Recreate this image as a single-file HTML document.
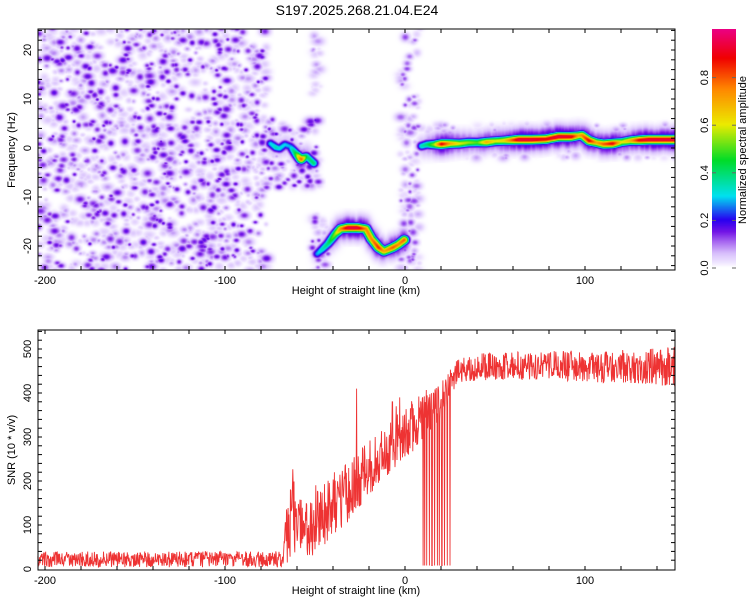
<!DOCTYPE html>
<html><head><meta charset="utf-8">
<style>
html,body{margin:0;padding:0;background:#fff;}
#wrap{position:relative;width:750px;height:600px;overflow:hidden;font-family:"Liberation Sans",sans-serif;}
canvas,svg{position:absolute;left:0;top:0;}
</style></head>
<body>
<div id="wrap">
<canvas id="heat" width="637" height="241" style="left:38px;top:29px"></canvas>
<canvas id="cbar" width="24" height="239" style="left:712px;top:29px"></canvas>
<svg id="ov" width="750" height="600"></svg>
</div>
<script>
// ---------- DATA ----------
const ridgeA_km  = [-75,-72,-70,-67,-64,-61,-58,-55,-51];
const ridgeA_hz  = [1.0,0.2,0.0,0.8,0.4,-1.0,-2.2,-1.6,-3.0];
const ridgeA_amp = [0.30,0.35,0.32,0.30,0.28,0.45,0.80,0.40,0.40];
const ridgeB_km  = [-49,-46,-43,-39,-36,-32,-27,-22,-19,-15,-12,-7,-4,-0.5];
const ridgeB_hz  = [-21.5,-20.5,-19.4,-17.5,-16.4,-16.2,-16.2,-16.4,-18.4,-20.2,-21.0,-20.2,-19.6,-18.6];
const ridgeB_amp = [0.28,0.35,0.40,0.55,0.75,0.95,0.95,0.75,0.75,0.85,0.70,0.80,0.75,0.80];
const ridgeC_km  = [9,12,16,20,25,30,35,40,45,50,55,63,70,78,85,92,96,98,102,106,110,115,120,125,130,135,140,145,150];
const ridgeC_hz  = [0.5,0.8,0.8,0.9,1.0,1.0,1.2,1.2,1.3,1.5,1.6,1.8,1.8,1.9,2.4,2.4,2.6,2.7,1.6,1.2,0.9,1.0,1.3,1.6,1.7,1.8,1.8,1.8,1.8];
const ridgeC_amp = [0.35,0.40,0.55,0.90,0.70,0.60,0.55,0.50,0.70,0.60,0.65,0.95,0.95,0.90,0.95,0.92,0.70,0.75,0.90,0.70,0.80,0.90,0.60,0.70,0.90,0.95,0.95,0.95,0.95];
const speckleKm0 = [-204,-79,-52,-52,-3,8];
const speckleKm1 = [-77,-48,-47,-43,8,150];
const speckleHz0 = [-25,-8,10,-25,-25,-2];
const speckleHz1 = [25,6,25,-13,25,5];
const speckleN   = [1500,110,22,40,140,200];
const speckleAmp = [0.16,0.16,0.08,0.14,0.12,0.08];
const snrKm     = [-204,-180,-150,-120,-90,-68,-66,-63,-60,-55,-50,-45,-40,-35,-30,-25,-20,-15,-10,-5,0,5,10,15,20,24,27,30,40,50,60,70,80,90,100,110,120,130,140,150];
const snrMean   = [22,22,22,22,22,22,60,140,110,90,110,125,150,165,180,200,230,250,270,290,310,330,350,360,380,410,440,455,460,460,462,460,465,462,460,458,460,460,462,460];
const snrSpread = [18,18,18,18,18,18,70,100,75,65,80,80,75,70,70,70,65,60,60,60,60,65,55,50,45,40,35,32,32,32,32,32,32,35,35,35,38,40,45,45];
const dropKm    = [10,11,12,13.5,15,16.5,18,19,20.5,22,23.5,25];
const spikeKm   = [-27,-7,-5,-3];
const spikeVal  = [410,380,370,390];
const xTicks = [-200,-100,0,100];
const hzTicks = [-20,-10,0,10,20];
const snrTicks = [0,100,200,300,400,500];
const cbTicks = [0.0,0.2,0.4,0.6,0.8];

// ---------- SCALES ----------
const X = km => 405 + km*1.8;
const YF = hz => 148 - hz*4.9;
const YS = v => 569 - v*0.44;
const YC = a => 268 - a*238;
function rng(seed){return function(){seed|=0;seed=seed+0x6D2B79F5|0;let t=Math.imul(seed^seed>>>15,1|seed);t=t+Math.imul(t^t>>>7,61|t)^t;return ((t^t>>>14)>>>0)/4294967296;};}
const R = rng(12345);
const stops=[[0,255,255,255],[0.02,240,230,255],[0.06,215,190,252],[0.11,165,100,240],[0.15,115,20,230],[0.2,40,0,240],[0.3,0,225,240],[0.45,0,220,40],[0.6,235,235,0],[0.75,255,135,0],[0.88,240,0,0],[1,235,0,130]];
function cmap(v){v=Math.max(0,Math.min(1,v));for(let i=1;i<stops.length;i++){if(v<=stops[i][0]){const a=stops[i-1],b=stops[i],t=(v-a[0])/(b[0]-a[0]);return [a[1]+(b[1]-a[1])*t,a[2]+(b[2]-a[2])*t,a[3]+(b[3]-a[3])*t];}}return stops[stops.length-1].slice(1);}
function interp(xs,ys,x){for(let i=1;i<xs.length;i++){if(x<=xs[i]){const t=(x-xs[i-1])/(xs[i]-xs[i-1]);return ys[i-1]+(ys[i]-ys[i-1])*t;}}return ys[ys.length-1];}

// ---------- HEATMAP ----------
const W=637,H=241,OX=38,OY=29;
const grid=new Float32Array(W*H);
function splat(cx,cy,sx,sy,amp){const rx=Math.ceil(sx*2.5),ry=Math.ceil(sy*2.5);
 for(let y=Math.max(0,Math.floor(cy-ry));y<=Math.min(H-1,cy+ry);y++)for(let x=Math.max(0,Math.floor(cx-rx));x<=Math.min(W-1,cx+rx);x++){
  const dx=(x-cx)/sx,dy=(y-cy)/sy;const v=amp*Math.exp(-(dx*dx+dy*dy)/2);const k=y*W+x;if(v>grid[k])grid[k]=v;}}
for(let s=0;s<speckleKm0.length;s++){
 for(let i=0;i<speckleN[s];i++){
  const km=speckleKm0[s]+R()*(speckleKm1[s]-speckleKm0[s]);
  const hz=speckleHz0[s]+R()*(speckleHz1[s]-speckleHz0[s]);
  const q=R();const amp=speckleAmp[s]*(q<0.3?1:(q<0.55?0.55:0.3))*(0.85+0.25*R());
  const r=1.3+R()*1.6;
  splat(X(km)-OX,YF(hz)-OY,r*(1+0.5*R()),r,amp);}}
function ridge(ks,hs,as){for(let km=ks[0];km<=ks[ks.length-1];km+=0.3){
  const hz=interp(ks,hs,km),a=interp(ks,as,km);const cx=X(km)-OX,cy=YF(hz)-OY;
  splat(cx,cy,3.2,3.0,a);splat(cx,cy+(R()-0.5)*8,4,6,a*0.2);}}
ridge(ridgeA_km,ridgeA_hz,ridgeA_amp);ridge(ridgeB_km,ridgeB_hz,ridgeB_amp);ridge(ridgeC_km,ridgeC_hz,ridgeC_amp);
const hc=document.getElementById('heat').getContext('2d');const img=hc.createImageData(W,H);
for(let k=0;k<W*H;k++){const c=cmap(grid[k]);img.data[k*4]=c[0];img.data[k*4+1]=c[1];img.data[k*4+2]=c[2];img.data[k*4+3]=255;}
hc.putImageData(img,0,0);
const cc=document.getElementById('cbar').getContext('2d');
for(let y=0;y<239;y++){const c=cmap(1-y/238);cc.fillStyle='rgb('+c.map(Math.round).join(',')+')';cc.fillRect(0,y,24,1);}

// ---------- SVG ----------
const NS='http://www.w3.org/2000/svg';const svg=document.getElementById('ov');
function el(t,a,txt){const e=document.createElementNS(NS,t);for(const k in a)e.setAttribute(k,a[k]);if(txt!==undefined)e.textContent=txt;svg.appendChild(e);return e;}
const SR=rng(777);let d='';let first=true;
for(let km=-204;km<=150;km+=0.22){let v=interp(snrKm,snrMean,km)+(SR()*2-1)*interp(snrKm,snrSpread,km);
 for(let j=0;j<dropKm.length;j++)if(Math.abs(km-dropKm[j])<0.12)v=8;
 for(let j=0;j<spikeKm.length;j++)if(Math.abs(km-spikeKm[j])<0.12)v=spikeVal[j];
 v=Math.max(2,Math.min(540,v));d+=(first?'M':'L')+X(km).toFixed(1)+','+YS(v).toFixed(1);first=false;}
const ln=el('path',{d:d,fill:'none',stroke:'#ee3333','stroke-width':'0.9'});

const f1=el('rect',{x:38,y:29,width:637,height:241,fill:'none',stroke:'#000','stroke-width':1});

const f2=el('rect',{x:38,y:330,width:637,height:240,fill:'none',stroke:'#000','stroke-width':1});

for(let km=-200;km<=140;km+=20){const x=X(km);
 for(const [y0,y1] of [[270,266],[29,33],[570,566],[330,334]]){const t=el('line',{x1:x,x2:x,y1:y0,y2:y1,stroke:'#000'});}}
for(const v of xTicks){for(const y of [284,584]){const t=el('text',{x:X(v),y:y,'font-size':11,'text-anchor':'middle',fill:'#000'},String(v));}}
for(let hz=-24;hz<=24;hz+=2){const y=YF(hz);for(const [x0,x1] of [[38,42],[675,671]]){const t=el('line',{x1:x0,x2:x1,y1:y,y2:y,stroke:'#000'});}}
for(const v of hzTicks){const t=el('text',{x:0,y:0,'font-size':11,'text-anchor':'middle',transform:'translate(31,'+YF(v)+') rotate(-90)',fill:'#000'},String(v));}
for(let v=20;v<=540;v+=20){const y=YS(v);for(const [x0,x1] of [[38,42],[675,671]]){const t=el('line',{x1:x0,x2:x1,y1:y,y2:y,stroke:'#000'});}}
for(const v of snrTicks){const t=el('text',{x:0,y:0,'font-size':11,'text-anchor':'middle',transform:'translate(31,'+YS(v)+') rotate(-90)',fill:'#000'},String(v));}
for(const v of cbTicks){const y=YC(v);const t=el('text',{x:0,y:0,'font-size':11,'text-anchor':'middle',transform:'translate(708,'+y+') rotate(-90)',fill:'#000'},v.toFixed(1));
 for(const [x0,x1] of [[712,716],[736,732]]){const l=el('line',{x1:x0,x2:x1,y1:y,y2:y,stroke:'#666'});}}
</script>
<svg width="750" height="600" style="position:absolute;left:0;top:0;pointer-events:none">
<text x="357" y="15" font-size="14" text-anchor="middle" font-family="Liberation Sans,sans-serif">S197.2025.268.21.04.E24</text>
<text x="356" y="294" font-size="11" text-anchor="middle" font-family="Liberation Sans,sans-serif">Height of straight line (km)</text>
<text x="356" y="594" font-size="11" text-anchor="middle" font-family="Liberation Sans,sans-serif">Height of straight line (km)</text>
<text transform="translate(15,150) rotate(-90)" font-size="11" text-anchor="middle" font-family="Liberation Sans,sans-serif">Frequency (Hz)</text>
<text transform="translate(15,450) rotate(-90)" font-size="11" text-anchor="middle" font-family="Liberation Sans,sans-serif">SNR (10 * v/v)</text>
<text transform="translate(746,150) rotate(-90)" font-size="11" text-anchor="middle" font-family="Liberation Sans,sans-serif">Normalized spectral amplitude</text>
</svg>
</body></html>
